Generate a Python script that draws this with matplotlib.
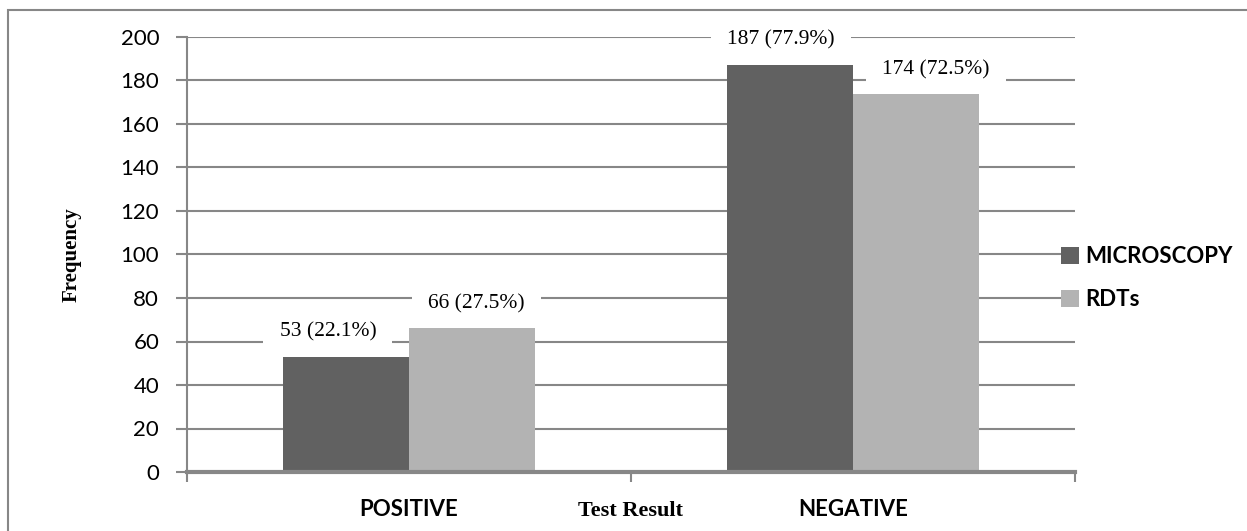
import numpy as np
import matplotlib
matplotlib.use('Agg')
import matplotlib.pyplot as plt
from matplotlib.patches import Rectangle

# data
categories = ['POSITIVE', 'NEGATIVE']
series = ['MICROSCOPY', 'RDTs']
microscopy = [53, 187]
rdts = [66, 174]
micro_labels = ['53 (22.1%)', '187 (77.9%)']
rdt_labels = ['66 (27.5%)', '174 (72.5%)']
yticks = np.arange(0, 201, 20)

dark = '#616161'
light = '#b3b3b3'
grid = '#878787'

fig = plt.figure(figsize=(12.47, 5.31), dpi=100)
ax = fig.add_axes([187/1247, 1-472/531, (1075-187)/1247, (472-37)/531])

# outer frame (only left and top visible)
fig.patches.append(Rectangle((8/1247, -0.1), 1.2, 1-10/531+0.1, transform=fig.transFigure,
                             fill=False, edgecolor=grid, lw=1.5))

x = np.arange(len(categories)) + 0.5
w = 0.284
b1 = ax.bar(x - w/2, microscopy, w, color=dark, label=series[0], zorder=5)
b2 = ax.bar(x + w/2, rdts, w, color=light, label=series[1], zorder=5)

ax.set_xlim(0, 2)
ax.set_ylim(0, 200)
ax.set_yticks(yticks)
ax.yaxis.grid(True, color=grid, lw=1.5, zorder=0)
ax.set_axisbelow(True)
for s in ['top', 'right']:
    ax.spines[s].set_visible(False)
ax.spines['left'].set_color(grid)
ax.spines['left'].set_linewidth(1.5)
ax.spines['bottom'].set_color(grid)
ax.spines['bottom'].set_linewidth(3)
ax.spines['bottom'].set_zorder(6)
ax.tick_params(axis='y', length=8, width=1.5, color=grid, pad=12, labelsize=16)
for t in ax.get_yticklabels():
    t.set_fontfamily('Lato')
ax.set_xticks([0, 1, 2])
ax.set_xticklabels([])
ax.tick_params(axis='x', length=7, width=1.5, color=grid)

# category names and axis titles
for xi, c in zip(x, categories):
    ax.text(xi, -0.087, c, transform=ax.get_xaxis_transform(), ha='center', va='center',
            fontsize=16, fontweight='bold', family='Lato')
ax.text(1, -0.09, 'Test Result', transform=ax.get_xaxis_transform(), ha='center', va='center',
        fontsize=16, fontweight='bold', family='Liberation Serif')
fig.text(72/1247, 1-255/531, 'Frequency', rotation=90, ha='center', va='center',
         fontsize=15, fontweight='bold', family='Liberation Serif')

# value labels with white boxes
offs = [(-18, 0), (-9, 0)]
offs2 = [(4, 0), (20, -1)]
for bars, labs, oo in [(b1, micro_labels, offs), (b2, rdt_labels, offs2)]:
    for bar, lab, o in zip(bars, labs, oo):
        ax.annotate(lab, (bar.get_x() + bar.get_width()/2, bar.get_height()),
                    xytext=(o[0]*0.72, 18 + o[1]), textcoords='offset points',
                    ha='center', va='center', fontsize=15.5, family='Liberation Serif',
                    bbox=dict(boxstyle='square,pad=0.75', fc='white', ec='none'), zorder=4)

leg = ax.legend(loc='center left', bbox_to_anchor=(1041/1247, 1-278/531),
                bbox_transform=fig.transFigure, frameon=False, handlelength=0.8,
                handleheight=0.8, handletextpad=0.3, labelspacing=1.0,
                prop={'family': 'Lato', 'weight': 'bold', 'size': 16})
leg.set_zorder(7)

fig.savefig('out.png', dpi=100)
